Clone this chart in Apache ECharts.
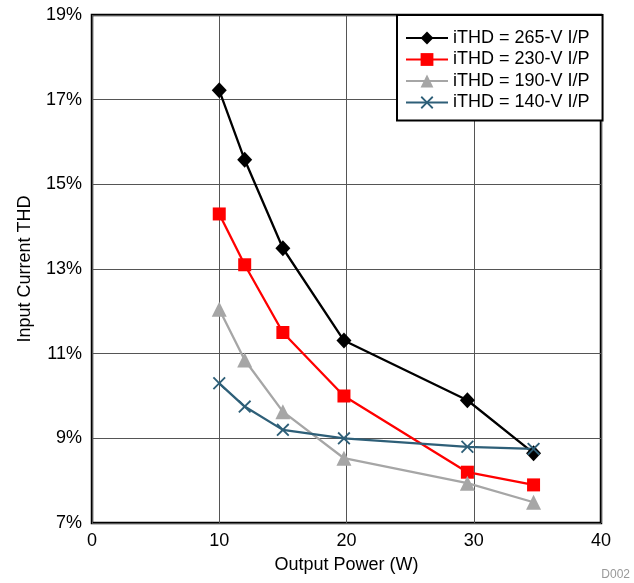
<!DOCTYPE html>
<html>
<head>
<meta charset="utf-8">
<script src="https://cdn.jsdelivr.net/npm/echarts@6/dist/echarts.min.js"></script>
<style>
  html, body { margin: 0; padding: 0; background: #fff; }
  #chart { width: 634px; height: 583px; }
</style>
</head>
<body>
<div id="chart"></div>
<script>
// output power (W) at each measuring point
const power = [10, 12, 15, 19.8, 29.5, 34.7];

// input current THD (%) per input voltage
const thd265 = [17.22, 15.58, 13.49, 11.31, 9.9, 8.65];
const thd230 = [14.3, 13.1, 11.5, 10.0, 8.2, 7.9];
const thd190 = [12.05, 10.85, 9.63, 8.53, 7.94, 7.49];
const thd140 = [10.3, 9.75, 9.2, 9.0, 8.8, 8.75];

const seriesNames = ['iTHD = 265-V I/P', 'iTHD = 230-V I/P', 'iTHD = 190-V I/P', 'iTHD = 140-V I/P'];

const font = '"Liberation Sans", Arial, sans-serif';
// X marker as a filled outline so the legend shows it too
const crossPath = 'path://M0,1L1,0L5,4L9,0L10,1L6,5L10,9L9,10L5,6L1,10L0,9L4,5Z';

const pairs = (ys) => power.map((x, i) => [x, ys[i]]);

const makeSeries = (name, ys, color, symbol, size) => ({
  name,
  type: 'line',
  data: pairs(ys),
  symbol,
  symbolSize: size,
  lineStyle: { color, width: 2.3 },
  itemStyle: { color },
  z: 3,
});

const chart = echarts.init(document.getElementById('chart'));
chart.setOption({
  animation: false,
  textStyle: { fontFamily: font },
  grid: {
    left: 92, right: 33, top: 15, bottom: 60,
    show: true, borderColor: '#000', borderWidth: 2.5,
  },
  legend: {
    orient: 'vertical',
    left: 397, top: 15,
    padding: [14, 13, 9, 8],
    backgroundColor: '#fff',
    borderColor: '#000',
    borderWidth: 2,
    itemWidth: 42,
    itemHeight: 16,
    itemGap: 3.5,
    textStyle: { fontSize: 18, color: '#000', fontFamily: font },
    data: seriesNames,
  },
  xAxis: {
    type: 'value',
    min: 0, max: 40, interval: 10,
    name: 'Output Power (W)',
    nameLocation: 'middle',
    nameGap: 33,
    nameTextStyle: { fontSize: 18, color: '#000', fontFamily: font },
    axisLine: { show: false },
    axisTick: { show: false },
    axisLabel: { fontSize: 18, color: '#000', margin: 9, fontFamily: font },
    splitLine: { show: true, lineStyle: { color: '#555', width: 1 } },
  },
  yAxis: {
    type: 'value',
    min: 7, max: 19, interval: 2,
    name: 'Input Current THD',
    nameLocation: 'middle',
    nameGap: 58,
    nameTextStyle: { fontSize: 18, color: '#000', fontFamily: font },
    axisLine: { show: false },
    axisTick: { show: false },
    axisLabel: { fontSize: 18, color: '#000', margin: 10, formatter: '{value}%', fontFamily: font },
    splitLine: { show: true, lineStyle: { color: '#555', width: 1 } },
  },
  graphic: [{
    type: 'text',
    right: 4, bottom: 2,
    style: { text: 'D002', fill: '#999', font: '12px ' + font },
  }],
  series: [
    makeSeries(seriesNames[0], thd265, '#000000', 'diamond', [15, 16]),
    makeSeries(seriesNames[1], thd230, '#ff0000', 'rect', 13),
    makeSeries(seriesNames[2], thd190, '#a6a6a6', 'triangle', 15),
    makeSeries(seriesNames[3], thd140, '#2e5f78', crossPath, 13),
  ],
});
</script>
</body>
</html>
